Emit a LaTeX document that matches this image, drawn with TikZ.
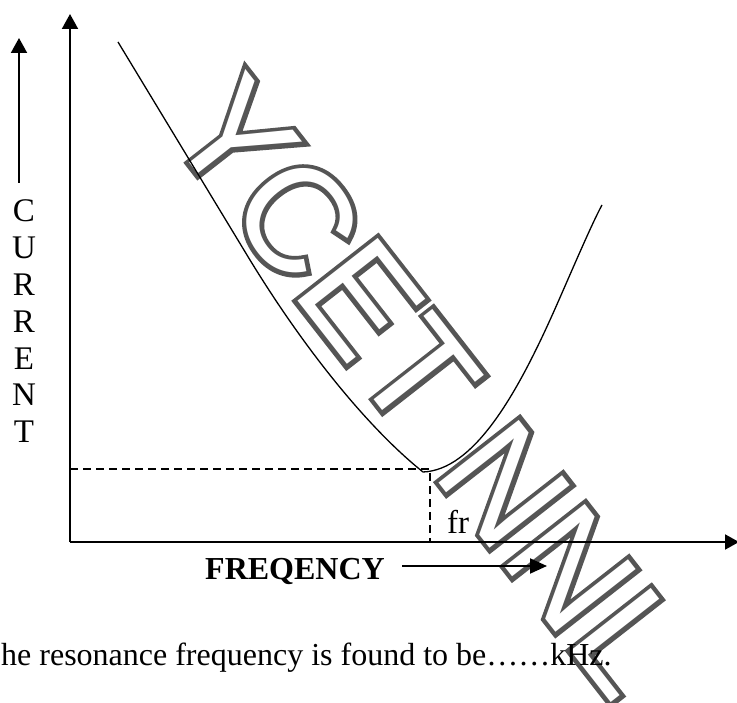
\documentclass[tikz,border=0pt]{standalone}
\usepackage{fontspec}
\setmainfont{Liberation Serif}
\newfontfamily\wmfont{Liberation Sans}
\usetikzlibrary{arrows.meta}
\definecolor{wmgray}{RGB}{85,85,85}
\tikzset{
  axisline/.style={line width=2pt,-{Triangle[length=15pt,width=16pt]}},
  curveline/.style={line width=1.3pt},
  dashline/.style={line width=1.3pt,dash pattern=on 8pt off 5pt},
  lbl/.style={inner sep=0pt,font=\fontsize{33}{36}\selectfont},
  wm/.style={inner sep=0pt,rotate=-52,text=wmgray,font=\wmfont\fontsize{148}{148}\selectfont},
}
\begin{document}
\begin{tikzpicture}[x=1pt,y=-1pt]
\useasboundingbox (0,0) rectangle (737,703);
% watermark: outline stroked wide, then glyph interior filled white
\node[wm] (wmark) at (429,387) {\special{pdf:literal 1 Tr 9 w}YCET NNL\special{pdf:literal 0 Tr}};
\node[wm,text=white] (wmfill) at (wmark.center) {YCET NNL};
% axes
\coordinate (O) at (70,542);
\coordinate (ytip) at (70,14);
\coordinate (xtip) at (739,542);
\draw[axisline] (O) -- (ytip);
\draw[line width=2pt,-{Triangle[length=14pt,width=15pt]}] (O) -- (xtip);
% small current arrow
\coordinate (ca0) at (19,183);
\coordinate (ca1) at (19,38);
\draw[axisline] (ca0) -- (ca1);
% CURRENT letters
\foreach \l [count=\i from 0] in {C,U,R,R,E,N,T}
  \node[lbl] (cur\i) at (24,{211+36.8*\i}) {\l};
% resonance curve
\coordinate (c0) at (118,42);
\coordinate (c1) at (250,260);
\coordinate (cmin) at (423,472);
\coordinate (c2) at (550,320);
\coordinate (c3) at (602,205);
\draw[curveline] (c0) -- (c1)
  .. controls (310,358) and (373,432) .. (cmin)
  .. controls (473,470) and (515,397) .. (c2)
  .. controls (565,287) and (590,227) .. (c3);
% dashed guides
\coordinate (dy) at (70,469);
\coordinate (dc) at (430,469);
\coordinate (dx) at (430,542);
\draw[dashline] (dy) -- (dc) -- (dx);
% labels
\node[lbl,anchor=base west] (fr) at (447,533) {fr};
\node[lbl,font=\fontsize{32}{36}\selectfont\bfseries] (freq) at (295,571) {FREQENCY};
\coordinate (fa0) at (402,566);
\coordinate (fa1) at (547,566);
\draw[line width=2pt,-{Triangle[length=17pt,width=15pt]}] (fa0) -- (fa1);
\node[lbl,anchor=base west,font=\fontsize{32}{36}\selectfont] (q) at (1,665) {he resonance frequency is found to be……kHz.};
\end{tikzpicture}
\end{document}
